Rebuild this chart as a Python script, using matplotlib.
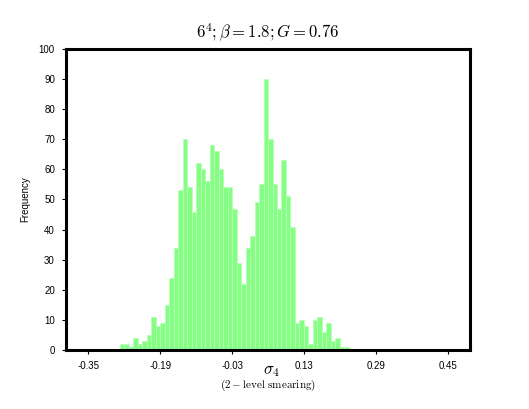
import numpy as np
import matplotlib
matplotlib.use("Agg")
import matplotlib.pyplot as plt

plt.rcParams["mathtext.fontset"] = "cm"
plt.rcParams["font.family"] = ["Liberation Sans", "DejaVu Sans"]

# histogram counts, bins of width 0.01 starting at -0.28
bin_start = -0.28
bin_width = 0.01
counts = [2, 2, 1, 4, 2, 3, 5, 11, 8, 9,
          15, 24, 34, 53, 70, 54, 46, 62, 60, 56,
          68, 66, 60, 54, 54, 47, 29, 22, 34, 38,
          49, 55, 90, 70, 55, 47, 63, 51, 41, 9,
          10, 8, 2, 10, 11, 6, 9, 3, 4, 1, 1]

xtick_values = [-0.35, -0.19, -0.03, 0.13, 0.29, 0.45]
xtick_labels = ["-0.35", "-0.19", "-0.03", "0.13", "0.29", "0.45"]
ytick_values = list(range(0, 101, 10))

edges = np.round(bin_start + bin_width * np.arange(len(counts)), 2)

fig = plt.figure(figsize=(5.29, 4.09), dpi=100)
ax = fig.add_axes([0.1248, 0.1443, 0.7637, 0.7359])

ax.bar(edges, counts, width=bin_width, align="edge",
       color="#84ff84", edgecolor="#b8ffb8", linewidth=0.6)

ax.set_xlim(-0.40, 0.50)
ax.set_ylim(0, 100)
ax.set_xticks(xtick_values)
ax.set_xticklabels(xtick_labels)
ax.set_yticks(ytick_values)
ax.tick_params(axis="both", direction="out", length=3, width=0.8,
               labelsize=7, pad=5)

for spine in ax.spines.values():
    spine.set_linewidth(2.2)

ax.set_title(r"$6^4;\beta=1.8;G=0.76$", fontsize=12, pad=8)
ax.set_ylabel("Frequency", fontsize=7, labelpad=6)

# x label: symbol then the note underneath
fig.text(0.514, 0.092, r"$\sigma_4$", ha="center", va="center", fontsize=12)
fig.text(0.5065, 0.058, r"$(2-\mathrm{level\ smearing})$",
         ha="center", va="center", fontsize=8)

fig.savefig("out.png", dpi=100)
